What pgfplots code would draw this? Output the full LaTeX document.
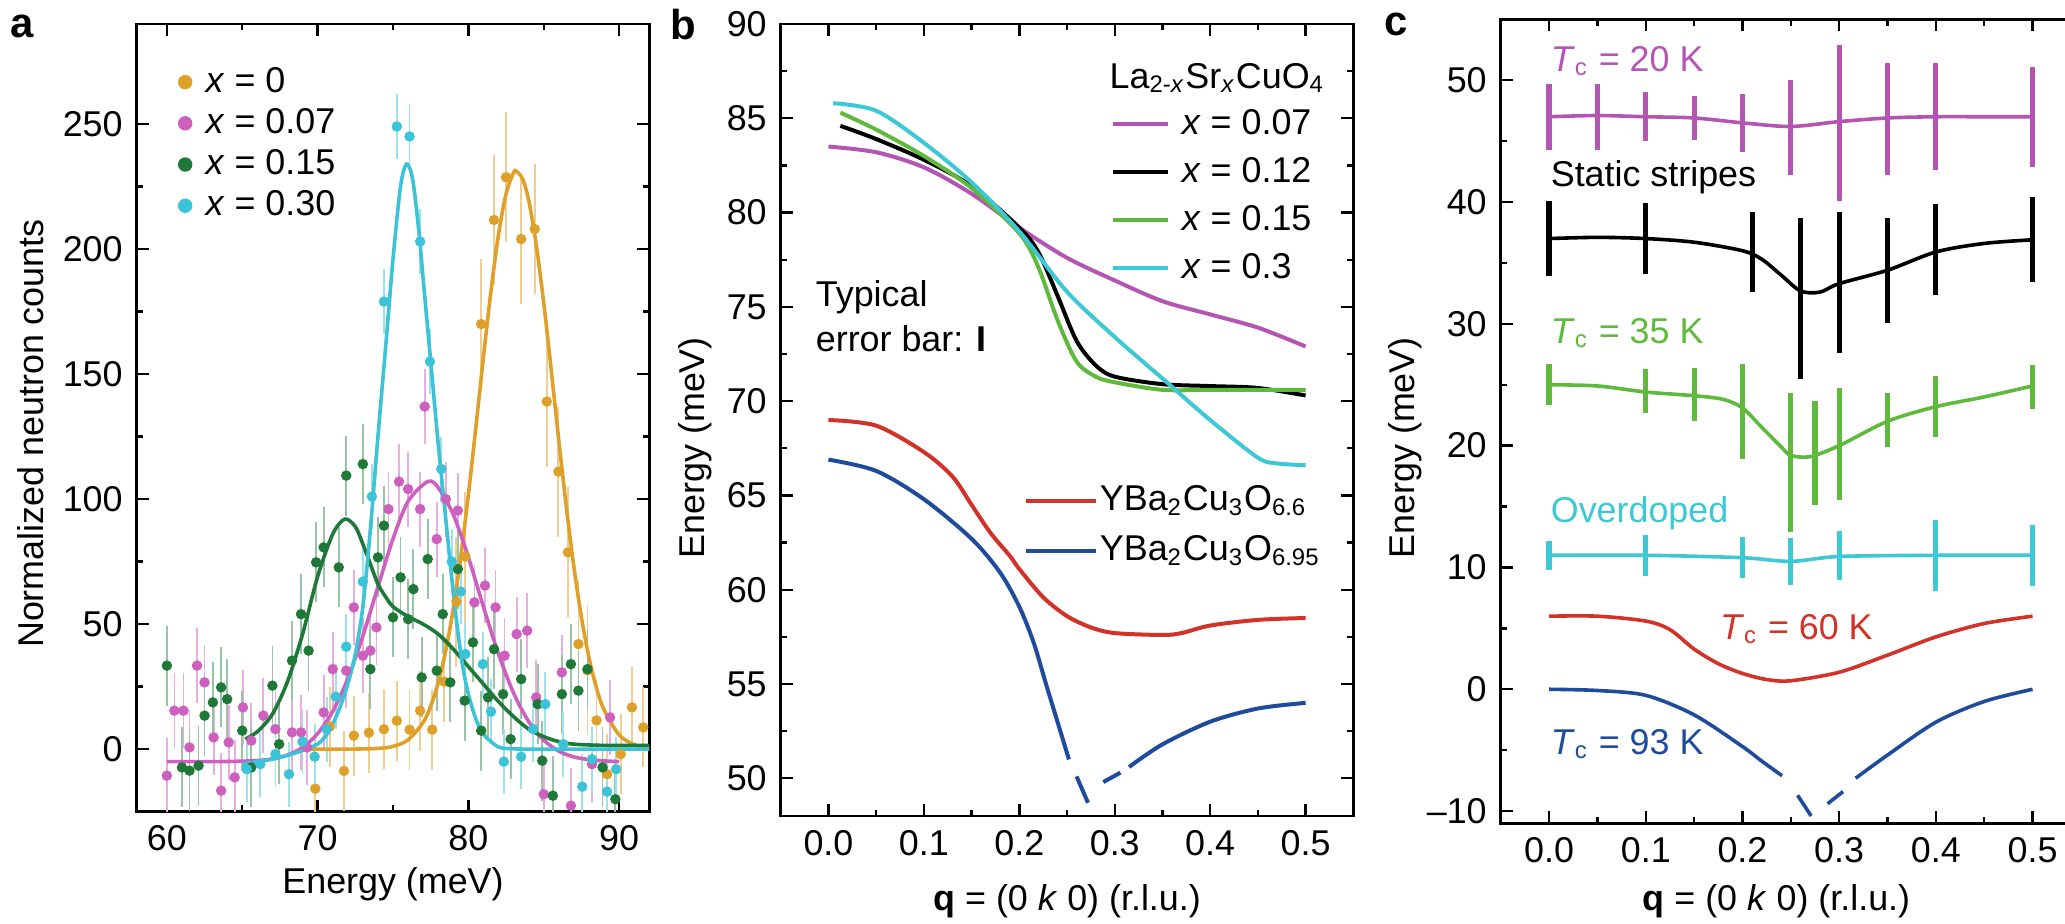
\documentclass[border=0pt]{standalone}
\usepackage{fontspec}
\setmainfont{Liberation Sans}
\usepackage{pgfplots}
\pgfplotsset{compat=1.18}

\definecolor{aorange}{RGB}{222,160,40}
\definecolor{amag}{RGB}{205,95,190}
\definecolor{agreen}{RGB}{30,120,55}
\definecolor{acyan}{RGB}{60,195,215}
\definecolor{bmag}{RGB}{180,85,180}
\definecolor{bgreen}{RGB}{95,185,60}
\definecolor{bcyan}{RGB}{60,200,212}
\definecolor{bred}{RGB}{210,50,40}
\definecolor{bblue}{RGB}{30,75,155}

\newcommand{\ff}{\fontsize{9}{10}\selectfont}

\pgfplotsset{
  panel/.style={
    scale only axis, anchor=south west,
    axis line style={line width=0.7bp},
    every tick/.style={line width=0.6bp, black},
    tick align=inside,
    major tick length=3bp, minor tick length=1.6bp,
    minor tick num=1,
    /pgf/number format/assume math mode=true,
    tick label style={font=\ff},
    label style={font=\ff},
    xlabel style={anchor=center},
    ylabel style={anchor=center},
  },
  scat/.style={forget plot, only marks, mark=*, mark size=1.2bp, color=#1,
    mark options={draw=#1, fill=#1, line width=0.2bp}},
  ebar/.style={forget plot, only marks, mark=*, mark size=0.1pt,
    mark options={draw opacity=0, fill opacity=0}},
}

\begin{document}
\begin{tikzpicture}
% ================= panel a =================
\begin{axis}[panel,
  at={(34.18bp,28.08bp)}, width=128.15bp, height=196.93bp,
  xmin=58, xmax=92, ymin=-25, ymax=290,
  xtick={60,70,80,90}, ytick={0,50,100,150,200,250},
  xlabel={Energy (meV)}, ylabel={Normalized neutron counts},
  xlabel style={at={(axis description cs:0.5,-0.092)}},
  ylabel style={at={(axis description cs:-0.206,0.48)}},
  legend image code/.code={\fill[#1] (1.5bp,0bp) circle (1.6bp);},
  legend cell align=left,
  legend style={at={(axis description cs:0.079,0.95)}, anchor=north west,
    draw=none, fill=none, inner sep=0pt, font=\ff, row sep=1.3bp, column sep=2.8bp,
    nodes={inner sep=0.5bp, text height=6.5bp, text depth=1.5bp}},
]
\addlegendimage{color=aorange}\addlegendentry{\textit{x} = 0}
\addlegendimage{color=amag}\addlegendentry{\textit{x} = 0.07}
\addlegendimage{color=agreen}\addlegendentry{\textit{x} = 0.15}
\addlegendimage{color=acyan}\addlegendentry{\textit{x} = 0.30}

% orange points
\addplot[scat=aorange, error bars/.cd, y dir=both, y fixed=16, error mark=none,
  error bar style={line width=0.45bp, color=aorange!50}] coordinates {
 (69.85,-15.8) (70.8,9) (71.75,-8.7) (72.4,5.4) (73.4,6.6) (74.4,8) (75.25,11.4)
 (76.1,7.8) (76.8,15.4) (77.6,7.8) (78.4,27) (88.5,11.5) (89.2,-10) (90.1,-2)
 (90.85,16.7) (91.6,8.7)};
\addplot[scat=aorange, error bars/.cd, y dir=both, y fixed=26, error mark=none,
  error bar style={line width=0.45bp, color=aorange!50}] coordinates {
 (79.2,59) (79.8,77) (80.85,170) (81.7,211.6) (82.5,228.7) (83.5,204) (84.4,208)
 (85.2,139) (85.97,111) (86.6,78.7) (87.3,42) (87.9,31.5)};
% magenta points
\addplot[scat=amag, error bars/.cd, y dir=both, y fixed=15, error mark=none,
  error bar style={line width=0.45bp, color=amag!50}] coordinates {
 (60.0,-10.6) (60.5,15.4) (61.1,15.4) (61.5,0.7) (62.0,33.4) (62.5,26.7) (63.1,4.7)
 (63.6,-16.6) (64.1,2.7) (64.5,-11.3) (65.05,16.7) (65.6,3.4) (66.4,13.4) (67.2,8)
 (68.3,6.7) (68.9,6.7) (69.3,0.7) (70.4,14.7) (71.0,32) (71.9,31.4) (72.4,56.7)
 (73.0,37.4) (73.5,39.4) (73.9,48.7) (74.7,96) (75.4,107) (76.0,104) (76.8,96)
 (77.1,137) (77.9,84) (78.5,100) (79.3,95.4) (80.4,58.7) (81.1,65.4) (81.8,56.7)
 (82.4,37.4) (83.2,46) (83.9,47.4) (84.5,20.7) (85.0,-18) (86.2,30.7) (86.8,-22.6)
 (88.2,-6) (89.4,12.7)};
% green points
\addplot[scat=agreen, error bars/.cd, y dir=both, y fixed=16, error mark=none,
  error bar style={line width=0.45bp, color=agreen!45}] coordinates {
 (60.0,33.4) (61.0,-7.3) (61.5,-8.6) (62.1,-6.6) (62.5,13.4) (63.05,18.7) (63.6,24.7)
 (64.0,20) (65.0,7.4) (65.6,-7.3) (67.0,25.4) (67.45,2) (68.3,35.4) (68.9,54)
 (69.4,39.4) (69.9,74.7) (70.4,80.7) (71.4,72.7) (71.9,109.4) (73.0,114) (73.5,32)
 (74.0,76.7) (74.4,89.4) (75.0,52.7) (75.5,68.7) (76.0,52) (76.35,64) (76.9,28.7)
 (77.3,76) (77.9,31.4) (78.3,54) (78.8,26.7) (79.3,72) (79.75,19.4) (80.3,42.7)
 (80.85,7.4) (81.3,20.7) (81.7,40) (82.3,22) (82.8,4) (83.5,28) (84.6,18) (84.9,-4.6)
 (85.6,-18.6) (86.2,22) (86.8,34) (87.3,23.4) (87.9,32) (88.9,-7.3) (89.75,-20)};
% cyan points
\addplot[scat=acyan, error bars/.cd, y dir=both, y fixed=13, error mark=none,
  error bar style={line width=0.45bp, color=acyan!50}] coordinates {
 (65.3,-8) (66.2,-6) (67.2,-2) (68.1,-10) (69.0,3) (69.8,-3) (70.6,8) (71.2,21)
 (71.9,41) (73.0,67) (73.6,101) (74.4,179) (75.25,249) (76.1,245) (76.8,203)
 (77.45,155) (78.2,112) (78.9,75) (79.5,63) (79.8,38) (80.96,34) (81.5,15)
 (82.35,-5) (83.5,-3) (84.3,8) (85.1,18) (86.3,2) (87.55,-15) (88.2,-4) (89.2,-17)
 (89.8,-8)};

% fitted curves
\addplot[forget plot, no marks, smooth, line width=0.9bp, aorange] coordinates {
 (69,0) (72,0) (74,0.3) (75,1.1) (76,3.7) (77,10.7) (77.5,17.2) (78,26.6) (78.5,39.5)
 (79,56.3) (79.5,77.3) (80,101.8) (80.5,128.9) (81,156.9) (81.5,183.3) (82,205.9)
 (82.5,222.1) (83,230.6) (83.2,231) (83.6,228) (84,219.5) (84.5,201.8) (85,178.3)
 (85.5,151.3) (86,123.3) (86.5,96.7) (87,72.8) (87.5,52.6) (88,36.6) (88.5,24.4)
 (89,15.7) (90,5.7) (91,1.8) (92,0.5)};
\addplot[forget plot, no marks, smooth, line width=0.9bp, amag] coordinates {
 (60,-5) (63,-5) (65,-4.8) (66,-4.55) (67,-3.9) (68,-2.35) (69,0.7) (70,6.2) (71,15.1)
 (72,28.2) (73,45.3) (74,64.9) (75,84.1) (76,99.1) (77.3,107) (78,104.6) (79,93.8)
 (80,76.7) (81,56.9) (82,38.0) (83,22.4) (84,11.0) (85,3.6) (86,-0.8) (87,-3.1)
 (88,-4.2) (89,-4.7) (90,-5)};
\addplot[forget plot, no marks, smooth, line width=0.9bp, agreen] coordinates {
 (65.2,4) (66,7) (67,14) (68,27) (69,46) (70,69) (71,86) (71.8,92) (72.5,89) (73,82)
 (73.5,74) (74,66) (74.5,61) (75,57) (76,53) (77,50) (78,46) (79,40) (80,33) (81,26)
 (82,19) (83,13) (84,8) (85,5) (86,3) (87,2) (89,1.5) (92,1.5)};
\addplot[forget plot, no marks, smooth, line width=0.9bp, acyan] coordinates {
 (65,-6) (66,-5) (67,-4) (68,-2.5) (69,-0.5) (70,2) (70.5,5) (71,10) (71.5,17) (72,26)
 (72.5,38) (73,57) (73.5,88) (74,125) (74.5,160) (75,196) (75.5,225) (75.9,234)
 (76.3,228) (76.7,208) (77,188) (77.5,155) (78,122) (78.4,98) (78.8,74) (79.2,52)
 (79.6,34) (80,22) (80.5,12) (81,6) (81.5,3) (82.2,0.5) (84,0) (88,0) (92,0)};
\end{axis}

% ================= panel b =================
\begin{axis}[panel,
  at={(195.18bp,27bp)}, width=143.15bp, height=198bp,
  xmin=-0.05, xmax=0.55, ymin=48, ymax=90,
  xtick={0,0.1,0.2,0.3,0.4,0.5}, xticklabels={0.0,0.1,0.2,0.3,0.4,0.5},
  ytick={50,55,60,65,70,75,80,85,90},
  xlabel={\textbf{q} = (0 \textit{k} 0) (r.l.u.)}, ylabel={Energy (meV)},
  xlabel style={at={(axis description cs:0.5,-0.108)}},
  ylabel style={at={(axis description cs:-0.149,0.465)}},
  legend image code/.code={\draw[#1] (0bp,0bp) -- (13.75bp,0bp);},
  legend cell align=left,
  legend style={at={(axis description cs:0.575,0.897)}, anchor=north west,
    draw=none, fill=none, inner sep=0pt, font=\ff, row sep=3bp, column sep=2.5bp,
    nodes={inner sep=0.5bp, text height=6.5bp, text depth=1.5bp}},
]
\addplot[no marks, smooth, line width=1bp, bmag] coordinates {
 (0,83.5) (0.05,83.2) (0.1,82.4) (0.15,81.0) (0.2,79.2) (0.25,77.6) (0.3,76.4)
 (0.35,75.3) (0.4,74.6) (0.45,73.9) (0.5,72.9)};
\addlegendentry{\textit{x} = 0.07}
\addplot[no marks, smooth, line width=1bp, black] coordinates {
 (0.0125,84.6) (0.05,83.9) (0.1,82.8) (0.15,81.4) (0.2,79.2) (0.22,77.9) (0.24,75.6)
 (0.26,73.2) (0.28,71.9) (0.3,71.3) (0.35,70.9) (0.4,70.8) (0.45,70.7) (0.5,70.3)};
\addlegendentry{\textit{x} = 0.12}
\addplot[no marks, smooth, line width=1bp, bgreen] coordinates {
 (0.0125,85.3) (0.05,84.4) (0.1,83.0) (0.15,81.3) (0.2,78.9) (0.22,77.1) (0.24,74.3)
 (0.26,72.1) (0.28,71.3) (0.3,71.0) (0.35,70.6) (0.4,70.6) (0.45,70.6) (0.5,70.6)};
\addlegendentry{\textit{x} = 0.15}
\addplot[no marks, smooth, line width=1bp, bcyan] coordinates {
 (0.005,85.8) (0.05,85.4) (0.1,83.7) (0.15,81.6) (0.2,79.0) (0.25,75.8) (0.3,73.4)
 (0.35,71.2) (0.4,69.0) (0.45,67.0) (0.47,66.7) (0.5,66.6)};
\addlegendentry{\textit{x} = 0.3}
\addplot[forget plot, no marks, smooth, line width=1bp, bred] coordinates {
 (0,69.0) (0.05,68.7) (0.1,67.3) (0.13,66.0) (0.15,64.5) (0.17,63.0) (0.19,61.8)
 (0.2,61.1) (0.225,59.6) (0.25,58.6) (0.275,58.0) (0.3,57.7) (0.35,57.6) (0.37,57.7)
 (0.4,58.1) (0.45,58.4) (0.5,58.5)};
\addplot[forget plot, no marks, smooth, line width=1bp, bblue] coordinates {
 (0,66.9) (0.05,66.3) (0.1,64.8) (0.15,62.7) (0.18,60.9) (0.2,59.1) (0.215,57.2)
 (0.228,55.0) (0.24,53.0) (0.252,51.0)};
\addplot[forget plot, no marks, line width=1bp, bblue] coordinates {(0.26,50.1) (0.272,48.7)};
\addplot[forget plot, no marks, line width=1bp, bblue] coordinates {(0.288,49.8) (0.306,50.3)};
\addplot[forget plot, no marks, smooth, line width=1bp, bblue] coordinates {
 (0.315,50.6) (0.35,51.8) (0.4,53.0) (0.45,53.7) (0.5,54.0)};
\node[anchor=west, font=\ff, inner sep=0pt] at (axis description cs:0.573,0.932)
  {La\textsubscript{2-\textit{x}}Sr\textsubscript{\textit{x}}CuO\textsubscript{4}};
\node[anchor=base west, font=\ff, inner sep=0pt] at (axis description cs:0.06,0.643) {Typical};
\node[anchor=base west, font=\ff, inner sep=0pt] at (axis description cs:0.06,0.586) {error bar: \textbf{I}};
\end{axis}
% second legend for panel b
\begin{axis}[scale only axis, anchor=south west, hide axis,
  at={(195.18bp,27bp)}, width=143.15bp, height=198bp,
  xmin=0, xmax=1, ymin=0, ymax=1,
  legend image code/.code={\draw[#1] (0bp,0bp) -- (17.4bp,0bp);},
  legend cell align=left,
  legend style={at={(axis description cs:0.424,0.4217)}, anchor=north west,
    draw=none, fill=none, inner sep=0pt, font=\ff, row sep=3.5bp, column sep=0bp,
    nodes={inner sep=0.5bp, text height=6.5bp, text depth=1.5bp}},
]
\addlegendimage{line width=1bp, bred}
\addlegendentry{YBa\textsubscript{2}Cu\textsubscript{3}O\textsubscript{6.6}}
\addlegendimage{line width=1bp, bblue}
\addlegendentry{YBa\textsubscript{2}Cu\textsubscript{3}O\textsubscript{6.95}}
\end{axis}

% ================= panel c =================
\begin{axis}[panel,
  at={(375.18bp,25.18bp)}, width=145.05bp, height=201bp,
  xmin=-0.05, xmax=0.55, ymin=-11, ymax=55,
  xtick={0,0.1,0.2,0.3,0.4,0.5}, xticklabels={0.0,0.1,0.2,0.3,0.4,0.5},
  ytick={-10,0,10,20,30,40,50}, yticklabels={\textendash10,0,10,20,30,40,50},
  xlabel={\textbf{q} = (0 \textit{k} 0) (r.l.u.)}, ylabel={Energy (meV)},
  xlabel style={at={(axis description cs:0.475,-0.097)}},
  ylabel style={at={(axis description cs:-0.165,0.467)}},
]
% magenta
\addplot[no marks, smooth, line width=0.9bp, bmag] coordinates {
 (0,47) (0.05,47.1) (0.1,47) (0.15,46.9) (0.2,46.5) (0.25,46.2) (0.3,46.6) (0.35,46.9)
 (0.4,47) (0.45,47) (0.5,47)};
\addplot[ebar, error bars/.cd, y dir=both, y explicit, error mark=none,
  error bar style={line width=1.3bp, color=bmag}] coordinates {
 (0,47) +- (0,2.7) (0.05,47) +- (0,2.7) (0.1,47) +- (0,2) (0.15,46.9) +- (0,1.8)
 (0.2,46.5) +- (0,2.4) (0.25,46.1) +- (0,3.9) (0.3,46.5) +- (0,6.4) (0.35,46.8) +- (0,4.6)
 (0.4,47) +- (0,4.4) (0.5,47) +- (0,4.1)};
% black
\addplot[no marks, smooth, line width=0.9bp, black] coordinates {
 (0,37) (0.05,37.1) (0.1,37) (0.15,36.7) (0.2,36) (0.22,35.3) (0.24,34.0) (0.26,32.7)
 (0.28,32.6) (0.3,33.3) (0.35,34.4) (0.4,35.9) (0.45,36.6) (0.5,36.9)};
\addplot[ebar, error bars/.cd, y dir=both, y explicit, error mark=none,
  error bar style={line width=1.3bp, color=black}] coordinates {
 (0,37) +- (0,3.1) (0.1,37) +- (0,2.9) (0.21,35.9) +- (0,3.3) (0.26,32.05) +- (0,6.6)
 (0.3,33.4) +- (0,5.8) (0.35,34.4) +- (0,4.3) (0.4,36.1) +- (0,3.7) (0.5,36.9) +- (0,3.5)};
% green
\addplot[no marks, smooth, line width=0.9bp, bgreen] coordinates {
 (0,25) (0.05,24.9) (0.1,24.4) (0.15,24.1) (0.18,23.8) (0.2,23.1) (0.22,21.5) (0.24,19.9)
 (0.25,19.2) (0.27,19.1) (0.3,20.0) (0.35,22.0) (0.4,23.2) (0.45,24.0) (0.5,24.9)};
\addplot[ebar, error bars/.cd, y dir=both, y explicit, error mark=none,
  error bar style={line width=1.3bp, color=bgreen}] coordinates {
 (0,25) +- (0,1.7) (0.1,24.5) +- (0,1.8) (0.15,24.2) +- (0,2.2) (0.2,22.8) +- (0,3.9)
 (0.25,18.6) +- (0,5.7) (0.275,19.4) +- (0,4.3) (0.3,20.1) +- (0,4.6) (0.35,22.1) +- (0,2.2)
 (0.4,23.2) +- (0,2.5) (0.5,24.8) +- (0,1.8)};
% cyan
\addplot[no marks, smooth, line width=0.9bp, bcyan] coordinates {
 (0,11) (0.1,11) (0.2,10.8) (0.25,10.5) (0.3,10.9) (0.4,11) (0.5,11)};
\addplot[ebar, error bars/.cd, y dir=both, y explicit, error mark=none,
  error bar style={line width=1.3bp, color=bcyan}] coordinates {
 (0,11) +- (0,1.2) (0.1,11) +- (0,1.7) (0.2,10.8) +- (0,1.7) (0.25,10.5) +- (0,1.9)
 (0.3,11) +- (0,2) (0.4,11) +- (0,2.9) (0.5,11) +- (0,2.5)};
% red
\addplot[no marks, smooth, line width=0.9bp, bred] coordinates {
 (0,6) (0.05,6) (0.1,5.6) (0.125,4.9) (0.15,3.3) (0.175,2.1) (0.2,1.3) (0.225,0.8)
 (0.25,0.7) (0.3,1.4) (0.35,2.8) (0.4,4.3) (0.45,5.4) (0.5,6)};
% blue
\addplot[no marks, smooth, line width=0.9bp, bblue] coordinates {
 (0,0) (0.05,-0.1) (0.1,-0.5) (0.15,-2.1) (0.2,-4.7) (0.22,-5.9) (0.241,-7.1)};
\addplot[no marks, line width=0.9bp, bblue] coordinates {(0.257,-8.7) (0.271,-10.4)};
\addplot[no marks, line width=0.9bp, bblue] coordinates {(0.288,-9.4) (0.304,-8.4)};
\addplot[no marks, smooth, line width=0.9bp, bblue] coordinates {
 (0.317,-7.3) (0.35,-5.4) (0.4,-2.7) (0.45,-1.0) (0.5,0)};

\node[anchor=base west, font=\ff, inner sep=0pt, text=bmag] at (axis cs:0.001,50.7)
  {\textit{T}\textsubscript{c} = 20 K};
\node[anchor=base west, font=\ff, inner sep=0pt, text=black] at (axis cs:0.001,41.25)
  {Static stripes};
\node[anchor=base west, font=\ff, inner sep=0pt, text=bgreen] at (axis cs:0.001,28.4)
  {\textit{T}\textsubscript{c} = 35 K};
\node[anchor=base west, font=\ff, inner sep=0pt, text=bcyan] at (axis cs:0.001,13.7)
  {Overdoped};
\node[anchor=base west, font=\ff, inner sep=0pt, text=bred] at (axis cs:0.176,4.07)
  {\textit{T}\textsubscript{c} = 60 K};
\node[anchor=base west, font=\ff, inner sep=0pt, text=bblue] at (axis cs:0.001,-5.35)
  {\textit{T}\textsubscript{c} = 93 K};
\end{axis}

\node[font=\bfseries\fontsize{10.5}{12}\selectfont] at (5.5bp,224.5bp) {a};
\node[font=\bfseries\fontsize{10.5}{12}\selectfont] at (170.75bp,224.75bp) {b};
\node[font=\bfseries\fontsize{10.5}{12}\selectfont] at (349bp,225bp) {c};

\pgfresetboundingbox
\path[use as bounding box] (0bp,0bp) rectangle (516.25bp,231bp);
\end{tikzpicture}
\end{document}
